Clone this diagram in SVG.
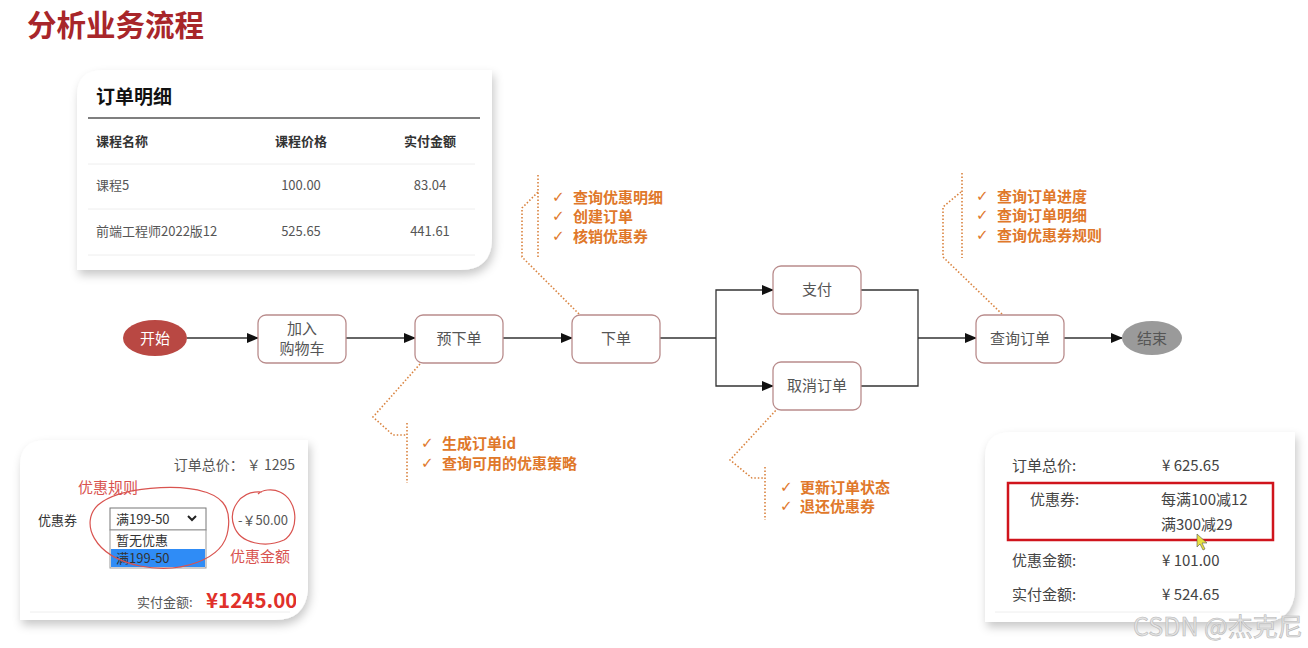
<svg xmlns="http://www.w3.org/2000/svg" width="1308" height="648" viewBox="0 0 1308 648">
<defs>
<style>
text{font-family:"Noto Sans CJK SC","Noto Sans",sans-serif}
.node{fill:#fff;stroke:#b98c8c;stroke-width:1.3}
.nt{font-size:15px;fill:#555;text-anchor:middle}
.conn{fill:none;stroke:#333;stroke-width:1.3}
.dot{fill:none;stroke:#d9833f;stroke-width:1.6;stroke-dasharray:1.5 2}
.ann{font-size:15px;font-weight:bold;fill:#e0782a}
.chk{font-size:15px;font-weight:bold;fill:#e0782a;font-family:"DejaVu Sans",sans-serif}
.card{fill:#fff;filter:url(#sh)}
.ct{font-size:13px;fill:#333}
.cg{font-size:13px;fill:#555}
.rt{font-size:15px;fill:#444}
.red{fill:#d9534f;font-size:15px}
.hand{fill:none;stroke:#d9534f;stroke-width:1.2}
</style>
<marker id="ah" markerWidth="12" markerHeight="10" refX="11" refY="5" orient="auto" markerUnits="userSpaceOnUse">
<path d="M0,0 L12,5 L0,10 Z" fill="#111"/>
</marker>
<filter id="sh" x="-10%" y="-10%" width="125%" height="130%">
<feDropShadow dx="2" dy="5" stdDeviation="5" flood-color="#000" flood-opacity="0.22"/>
</filter>
<clipPath id="c2"><rect x="20" y="440" width="276" height="180"/></clipPath>
</defs>
<rect width="1308" height="648" fill="#fff"/>
<text x="27" y="36" font-size="29.5" font-weight="bold" fill="#a8262a">分析业务流程</text>

<g id="card-order-detail">
<path class="card" d="M77,96 Q77,70 103,70 L492,70 L492,238 Q492,270 460,270 L77,270 Z"/>
<text x="96" y="104" font-size="19" font-weight="bold" fill="#111">订单明细</text>
<line x1="88" y1="118" x2="480" y2="118" stroke="#555" stroke-width="1.5"/>
<text x="96" y="146" font-size="13" font-weight="bold" fill="#333">课程名称</text>
<text x="301" y="146" font-size="13" font-weight="bold" fill="#333" text-anchor="middle">课程价格</text>
<text x="430" y="146" font-size="13" font-weight="bold" fill="#333" text-anchor="middle">实付金额</text>
<line x1="88" y1="164" x2="475" y2="164" stroke="#eee"/>
<text x="96" y="190" class="cg">课程5</text>
<text x="301" y="190" class="cg" text-anchor="middle">100.00</text>
<text x="430" y="190" class="cg" text-anchor="middle">83.04</text>
<line x1="88" y1="209" x2="475" y2="209" stroke="#eee"/>
<text x="96" y="236" class="cg">前端工程师2022版12</text>
<text x="301" y="236" class="cg" text-anchor="middle">525.65</text>
<text x="430" y="236" class="cg" text-anchor="middle">441.61</text>
<line x1="88" y1="255" x2="475" y2="255" stroke="#eee"/>
</g>

<g id="card-coupon-select">
<path class="card" d="M20,466 Q20,440 46,440 L308,440 L308,590 Q305,620 275,620 L20,620 Z"/>
<text x="295" y="470" class="cg" font-size="14" text-anchor="end" style="font-size:14px">订单总价：  ￥ 1295</text>
<text x="78" y="493" class="red" font-size="14">优惠规则</text>
<text x="38" y="525" class="ct">优惠券</text>
<rect x="110" y="508" width="96" height="22" fill="#fff" stroke="#777"/>
<text x="116" y="524" class="ct" fill="#222">满199-50</text>
<path d="M188,516 L192,520 L196,516" fill="none" stroke="#222" stroke-width="2"/>
<rect x="110" y="530" width="96" height="38" fill="#fff" stroke="#999"/>
<text x="116" y="545" class="ct" fill="#222">暂无优惠</text>
<rect x="111" y="549" width="94" height="18" fill="#2f8cf6"/>
<text x="116" y="563" class="ct" fill="#fff">满199-50</text>
<text x="238" y="525" class="cg">-￥50.00</text>
<text x="230" y="562" class="red" font-size="14">优惠金额</text>
<path class="hand" d="M205,492 C180,484 120,486 98,505 C80,522 92,556 140,566 C180,574 224,560 228,530 C232,505 220,495 198,490"/>
<path class="hand" d="M262,492 C240,490 228,510 234,526 C240,544 266,548 284,540 C300,530 298,500 280,492 C272,488 262,490 258,494"/>
<text x="137" y="607" class="cg">实付金额:</text>
<text x="206" y="608" font-size="20.5" font-weight="bold" fill="#e0302a" clip-path="url(#c2)">¥1245.00</text>
<line x1="30" y1="612" x2="290" y2="612" stroke="#eee"/>
</g>

<g id="card-coupon-result">
<path class="card" d="M985,458 Q985,432 1011,432 L1295,432 L1295,590 Q1293,622 1262,622 L985,622 Z"/>
<text x="1012" y="471" class="rt">订单总价:</text>
<text x="1162" y="471" class="rt">¥ 625.65</text>
<rect x="1008" y="483" width="265" height="57" fill="none" stroke="#d0141c" stroke-width="2.5"/>
<text x="1030" y="505" class="rt">优惠券:</text>
<text x="1161" y="505" class="rt">每满100减12</text>
<text x="1161" y="530" class="rt">满300减29</text>
<path d="M1197,534 L1197,547 L1200,544 L1203,550 L1205,549 L1202,543 L1207,543 Z" fill="#e8e040" stroke="#555" stroke-width="0.6"/>
<text x="1012" y="566" class="rt">优惠金额:</text>
<text x="1162" y="566" class="rt">¥ 101.00</text>
<text x="1012" y="600" class="rt">实付金额:</text>
<text x="1162" y="600" class="rt">¥ 524.65</text>
<line x1="995" y1="612" x2="1280" y2="612" stroke="#eee"/>
</g>

<g id="connectors">
<line class="conn" x1="187" y1="338" x2="258" y2="338" marker-end="url(#ah)"/>
<line class="conn" x1="346" y1="338" x2="415" y2="338" marker-end="url(#ah)"/>
<line class="conn" x1="503" y1="338" x2="572" y2="338" marker-end="url(#ah)"/>
<polyline class="conn" points="660,338 716,338"/>
<polyline class="conn" points="716,338 716,290 773,290" marker-end="url(#ah)"/>
<polyline class="conn" points="716,338 716,386 773,386" marker-end="url(#ah)"/>
<polyline class="conn" points="861,290 918,290 918,386 861,386"/>
<line class="conn" x1="918" y1="338" x2="976" y2="338" marker-end="url(#ah)"/>
<line class="conn" x1="1064" y1="338" x2="1122" y2="338" marker-end="url(#ah)"/>
<polyline class="dot" points="579,314 522,257 522,208 538,192"/>
<polyline class="dot" points="420,364 373,417 393,435 406,435"/>
<polyline class="dot" points="778,408 730,460 752,478 764,478"/>
<polyline class="dot" points="1002,314 943,257 943,207 961,192"/>
</g>

<g id="node-start">
<ellipse cx="155" cy="338" rx="32" ry="18" fill="#b94843"/>
<text x="155" y="344" class="nt" style="fill:#fff">开始</text>
</g>
<g id="node-cart">
<rect class="node" x="258" y="315" width="88" height="48" rx="8"/>
<text x="302" y="334" class="nt">加入</text>
<text x="302" y="354" class="nt">购物车</text>
</g>
<g id="node-preorder">
<rect class="node" x="415" y="315" width="88" height="48" rx="8"/>
<text x="459" y="344" class="nt">预下单</text>
</g>
<g id="node-order">
<rect class="node" x="572" y="315" width="88" height="48" rx="8"/>
<text x="616" y="344" class="nt">下单</text>
</g>
<g id="node-pay">
<rect class="node" x="773" y="266" width="88" height="48" rx="8"/>
<text x="817" y="295" class="nt">支付</text>
</g>
<g id="node-cancel">
<rect class="node" x="773" y="362" width="88" height="48" rx="8"/>
<text x="817" y="391" class="nt">取消订单</text>
</g>
<g id="node-query">
<rect class="node" x="976" y="315" width="88" height="48" rx="8"/>
<text x="1020" y="344" class="nt">查询订单</text>
</g>
<g id="node-end">
<ellipse cx="1152" cy="338" rx="30" ry="17" fill="#9a9a9a"/>
<text x="1152" y="344" class="nt">结束</text>
</g>

<g id="note-order">
<line class="dot" x1="538" y1="175" x2="538" y2="258"/>
<text x="552" y="202" class="chk">✓</text><text x="573" y="203" class="ann">查询优惠明细</text>
<text x="552" y="221" class="chk">✓</text><text x="573" y="222" class="ann">创建订单</text>
<text x="552" y="241" class="chk">✓</text><text x="573" y="242" class="ann">核销优惠券</text>
</g>
<g id="note-preorder">
<line class="dot" x1="407" y1="423" x2="407" y2="483"/>
<text x="421" y="448" class="chk">✓</text><text x="442" y="449" class="ann">生成订单id</text>
<text x="421" y="468" class="chk">✓</text><text x="442" y="469" class="ann">查询可用的优惠策略</text>
</g>
<g id="note-cancel">
<line class="dot" x1="765" y1="467" x2="765" y2="520"/>
<text x="780" y="492" class="chk">✓</text><text x="800" y="493" class="ann">更新订单状态</text>
<text x="780" y="511" class="chk">✓</text><text x="800" y="512" class="ann">退还优惠券</text>
</g>
<g id="note-query">
<line class="dot" x1="962" y1="173" x2="962" y2="258"/>
<text x="976" y="201" class="chk">✓</text><text x="997" y="202" class="ann">查询订单进度</text>
<text x="976" y="220" class="chk">✓</text><text x="997" y="221" class="ann">查询订单明细</text>
<text x="976" y="240" class="chk">✓</text><text x="997" y="241" class="ann">查询优惠券规则</text>
</g>

<text x="1133" y="636" font-size="25" fill="#e4e4e4" stroke="#b8b8b8" stroke-width="0.6">CSDN @杰克尼</text>
</svg>
